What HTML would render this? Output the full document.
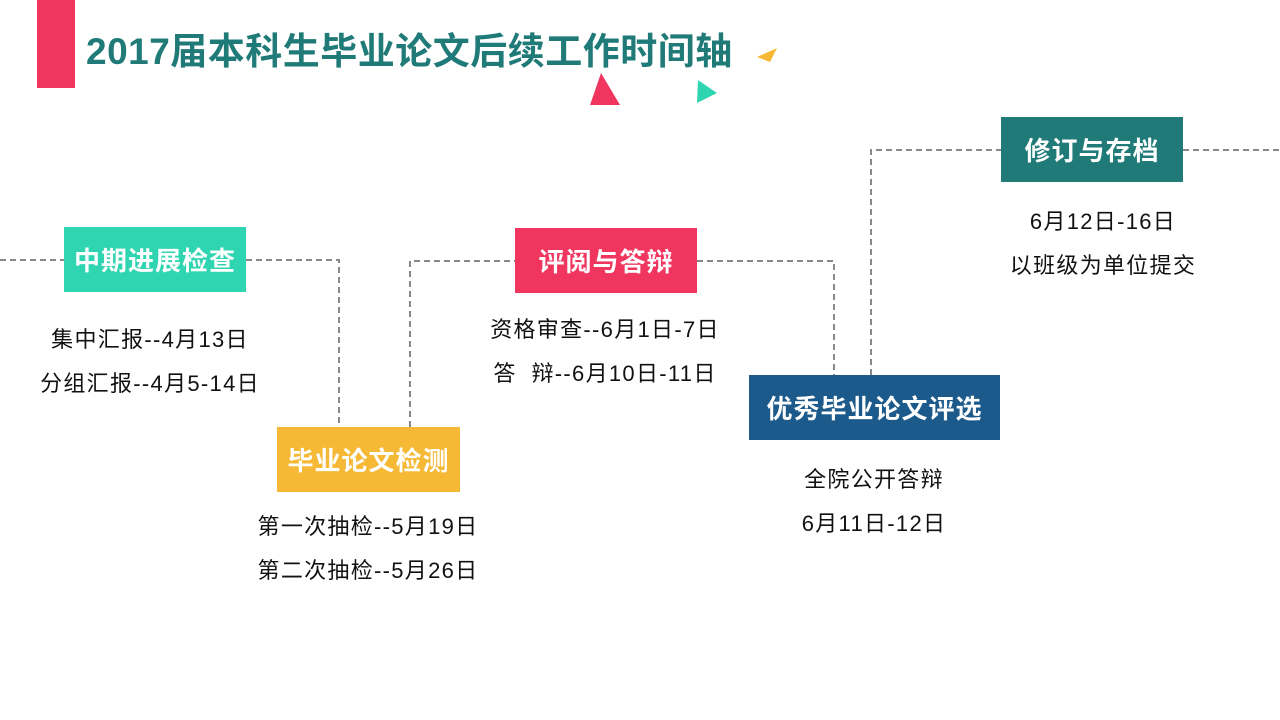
<!DOCTYPE html>
<html><head><meta charset="utf-8"><style>
body{margin:0;width:1280px;height:720px;background:#fff;position:relative;overflow:hidden;font-family:"Liberation Sans","Noto Sans CJK SC",sans-serif}
.a{position:absolute}
.box{position:absolute;color:#fff;font-weight:bold;font-size:26px;letter-spacing:1px;display:flex;align-items:center;justify-content:center}
.t{position:absolute;font-size:22px;letter-spacing:1.3px;color:#111;text-align:center;white-space:nowrap;transform:translateX(-50%);line-height:1}
</style></head><body>
<div class="a" style="left:37px;top:0;width:38px;height:88px;background:#f0365f"></div>
<div class="a" style="left:86px;top:29px;font-size:37px;letter-spacing:0.5px;font-weight:bold;color:#1f7a78;white-space:nowrap;line-height:46px">2017届本科生毕业论文后续工作时间轴</div>
<svg class="a" style="left:0;top:0" width="1280" height="720">
<polygon points="601,73 590,105 620,105" fill="#f0365f"/>
<polygon points="698,80 717,93 697,103" fill="#2fd5b0"/>
<polygon points="777,48 757,57 770,62" fill="#f5b935"/>
<g stroke="#888" stroke-width="2" stroke-dasharray="6,4" fill="none">
<path d="M0,260 H64"/>
<path d="M246,260 H339 V427"/>
<path d="M410,427 V261 H515"/>
<path d="M697,261 H834 V375"/>
<path d="M871,375 V150 H1001"/>
<path d="M1183,150 H1280"/>
</g></svg>
<div class="box" style="left:64px;top:227px;width:182px;height:65px;background:#2fd5b0">中期进展检查</div>
<div class="box" style="left:277px;top:427px;width:183px;height:65px;background:#f5b935">毕业论文检测</div>
<div class="box" style="left:515px;top:228px;width:182px;height:65px;background:#f0365f">评阅与答辩</div>
<div class="box" style="left:749px;top:375px;width:251px;height:65px;background:#1b5a8a">优秀毕业论文评选</div>
<div class="box" style="left:1001px;top:117px;width:182px;height:65px;background:#1f7a78">修订与存档</div>
<div class="t" style="left:150px;top:329px">集中汇报--4月13日</div>
<div class="t" style="left:150px;top:373px">分组汇报--4月5-14日</div>
<div class="t" style="left:368px;top:516px">第一次抽检--5月19日</div>
<div class="t" style="left:368px;top:560px">第二次抽检--5月26日</div>
<div class="t" style="left:605px;top:319px">资格审查--6月1日-7日</div>
<div class="t" style="left:605px;top:363px">答&nbsp;&nbsp;辩--6月10日-11日</div>
<div class="t" style="left:874px;top:469px">全院公开答辩</div>
<div class="t" style="left:874px;top:513px">6月11日-12日</div>
<div class="t" style="left:1103px;top:211px">6月12日-16日</div>
<div class="t" style="left:1103px;top:255px">以班级为单位提交</div>
</body></html>
